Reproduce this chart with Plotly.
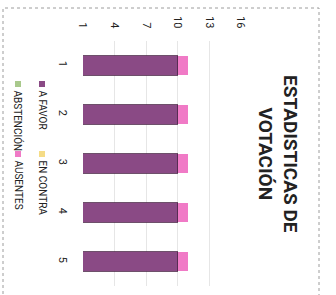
import plotly.graph_objects as go

categories = ["1", "2", "3", "4", "5"]
series_names = ["A FAVOR", "EN CONTRA", "ABSTENCIÓN", "AUSENTES"]
a_favor = [10, 10, 10, 10, 10]
en_contra = [0, 0, 0, 0, 0]
abstencion = [0, 0, 0, 0, 0]
ausentes = [1, 1, 1, 1, 1]
tick_values = [1, 4, 7, 10, 13, 16]
title_text = "ESTADISTICAS DE<br>VOTACIÓN"

colors = ["#8a4a85", "#f5dc86", "#a9c98c", "#f07ac6"]
values = [a_favor, en_contra, abstencion, ausentes]

W, H = 336, 295
L, R, T, B = 83, 241, 41, 286

def px_x(x):
    return (x - L) / (R - L)

def px_y(y):
    return (B - y) / (B - T)

fig = go.Figure()
for name, vals, col in zip(series_names, values, colors):
    fig.add_trace(go.Bar(
        y=categories, x=vals, name=name, orientation="h",
        marker=dict(color=col,
                    line=dict(color="#4a2446" if name == "A FAVOR" else col,
                              width=0.8 if name == "A FAVOR" else 0)),
    ))

shapes = [dict(type="rect", xref="paper", yref="paper",
               x0=px_x(3), x1=px_x(319), y0=px_y(305), y1=px_y(8),
               line=dict(color="#9c9c9c", width=1, dash="dot"), layer="below")]

annotations = [dict(text=title_text, textangle=90, xref="paper", yref="paper",
                    x=px_x(278), y=px_y(154), xanchor="center", yanchor="middle",
                    showarrow=False,
                    font=dict(family="Roboto", size=19, color="#222222", weight="bold"))]

# legend laid out as in the (rotated) picture
leg_pos = [(42, 81), (42, 151), (18, 81), (18, 151)]
for (cx, sy), name, col in zip(leg_pos, series_names, colors):
    shapes.append(dict(type="rect", xref="paper", yref="paper",
                       x0=px_x(cx - 3), x1=px_x(cx + 3),
                       y0=px_y(sy + 6), y1=px_y(sy),
                       fillcolor=col, line=dict(width=0)))
    annotations.append(dict(text=name, textangle=90, xref="paper", yref="paper",
                            x=px_x(cx), y=px_y(sy + 7), xanchor="center", yanchor="top",
                            showarrow=False,
                            font=dict(family="Roboto", size=10, color="#222222")))

fig.update_layout(
    width=W, height=H,
    margin=dict(l=L, r=W - R, t=T, b=H - B, autoexpand=False),
    barmode="stack", bargap=0.6,
    showlegend=False, hovermode=False,
    paper_bgcolor="white", plot_bgcolor="white",
    shapes=shapes, annotations=annotations,
    xaxis=dict(side="top", range=[1, 16], tickvals=tick_values, automargin=False,
               tickangle=90, showgrid=True, gridcolor="#e6e6e6", gridwidth=1,
               zeroline=False, showline=False, ticks="",
               tickfont=dict(family="Roboto", size=11, color="#222222"),
               ticklabelstandoff=10),
    yaxis=dict(type="category", autorange="reversed", tickangle=90, automargin=False,
               showgrid=False, zeroline=False, showline=False, ticks="",
               tickfont=dict(family="Roboto", size=11, color="#222222"),
               ticklabelstandoff=12),
)

fig.write_html("out.html", config={"displayModeBar": False},
               post_script="document.body.style.margin='0';document.body.style.overflow='hidden';")
